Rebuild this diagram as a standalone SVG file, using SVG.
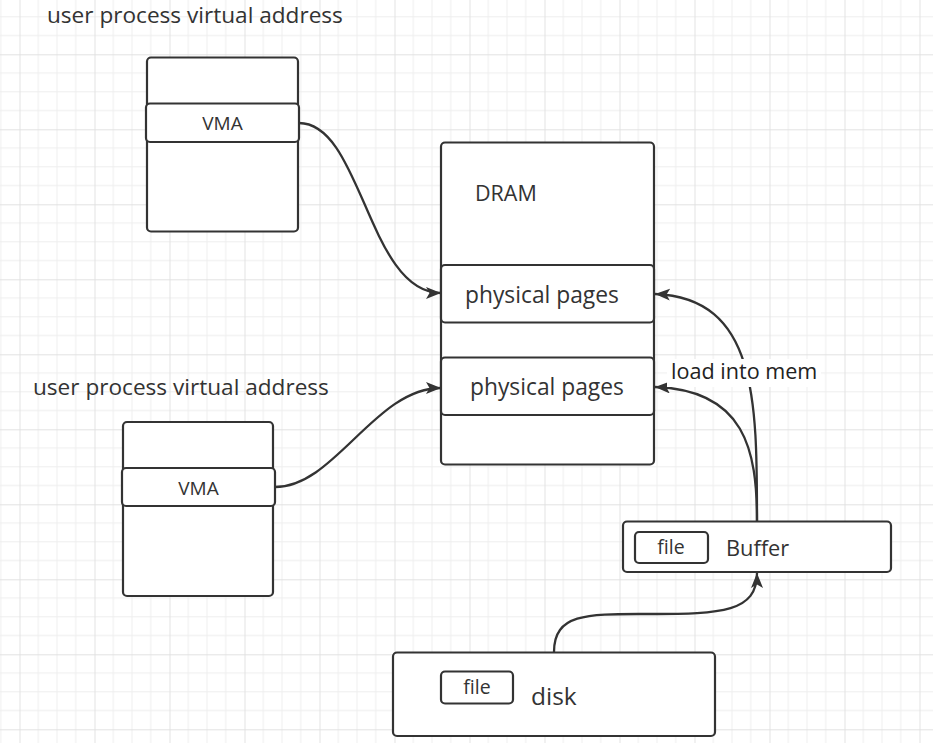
<svg xmlns="http://www.w3.org/2000/svg" width="933" height="743" viewBox="0 0 933 743">
<style>
.box{fill:#ffffff;stroke:#333333;stroke-width:2.2}
.edge{fill:none;stroke:#333333;stroke-width:2.3}
.t{font-family:"Open Sans","Noto Sans",sans-serif;fill:#333333}
</style>
<defs>
<pattern id="grid" patternUnits="userSpaceOnUse" x="19.5" y="54.3" width="75" height="75">
<rect width="75" height="75" fill="#ffffff"/>
<path d="M18.75,0V75M37.5,0V75M56.25,0V75M0,18.75H75M0,37.5H75M0,56.25H75" stroke="#eeeeee" stroke-width="1" fill="none"/>
<path d="M0.5,0V75M0,0.5H75" stroke="#e2e2e2" stroke-width="1" fill="none"/>
</pattern>
<marker id="arr" markerUnits="userSpaceOnUse" markerWidth="18" markerHeight="14" refX="15" refY="6" orient="auto">
<path d="M0,0L15,6L0,12L3.5,6z" fill="#333333"/>
</marker>
</defs>
<rect width="933" height="743" fill="url(#grid)"/>

<g id="label-top">
<text class="t" x="47" y="22.7" font-size="22.6">user process virtual address</text>
</g>
<g id="vma-top">
<rect class="box" x="147" y="57.5" width="151" height="174" rx="4"/>
<rect class="box" x="146" y="103.5" width="153" height="38.5" rx="4"/>
<text class="t" x="222.5" y="130" font-size="19" text-anchor="middle">VMA</text>
</g>
<g id="label-bottom">
<text class="t" x="33" y="395" font-size="22.6">user process virtual address</text>
</g>
<g id="vma-bottom">
<rect class="box" x="123" y="422" width="150" height="174" rx="4"/>
<rect class="box" x="122" y="468" width="153" height="38" rx="4"/>
<text class="t" x="198.5" y="494.5" font-size="19" text-anchor="middle">VMA</text>
</g>
<g id="dram">
<rect class="box" x="441" y="142.5" width="213" height="322" rx="4"/>
<text class="t" x="475" y="201" font-size="21.5">DRAM</text>
</g>
<g id="pp1">
<rect class="box" x="441" y="265" width="213" height="57.5" rx="4"/>
<text class="t" x="465" y="303" font-size="22.8">physical pages</text>
</g>
<g id="pp2">
<rect class="box" x="441" y="357.5" width="213" height="57.5" rx="4"/>
<text class="t" x="470" y="395" font-size="22.8">physical pages</text>
</g>
<g id="buffer">
<rect class="box" x="623" y="521.5" width="268" height="50.5" rx="4"/>
<rect class="box" x="635" y="532" width="73" height="31" rx="4"/>
<text class="t" x="671" y="554" font-size="19.5" text-anchor="middle">file</text>
<text class="t" x="726" y="555.5" font-size="21.8">Buffer</text>
</g>
<g id="disk">
<rect class="box" x="393" y="652.5" width="322" height="83.5" rx="4"/>
<rect class="box" x="441" y="671.5" width="72" height="32" rx="4"/>
<text class="t" x="477" y="694" font-size="19.5" text-anchor="middle">file</text>
<text class="t" x="531" y="705" font-size="24.5">disk</text>
</g>

<g id="connectors">
<path class="edge" d="M299,123C362,123 368,293 441,293" marker-end="url(#arr)"/>
<path class="edge" d="M275,487C335,487 375,388 441,388" marker-end="url(#arr)"/>
<path class="edge" d="M757,521C757,400 757,298 655,294" marker-end="url(#arr)"/>
<path class="edge" d="M757,521C757,450 745,390 655,387" marker-end="url(#arr)"/>
<path class="edge" d="M554,652C554,612 590,614 650,614C722,614 757,612 757,573" marker-end="url(#arr)"/>
<g id="edge-label">
<rect x="667" y="359" width="154" height="28" fill="#ffffff"/>
<text class="t" x="671" y="378.5" font-size="21.6" style="fill:#222222">load into mem</text>
</g>
</g>
</svg>
